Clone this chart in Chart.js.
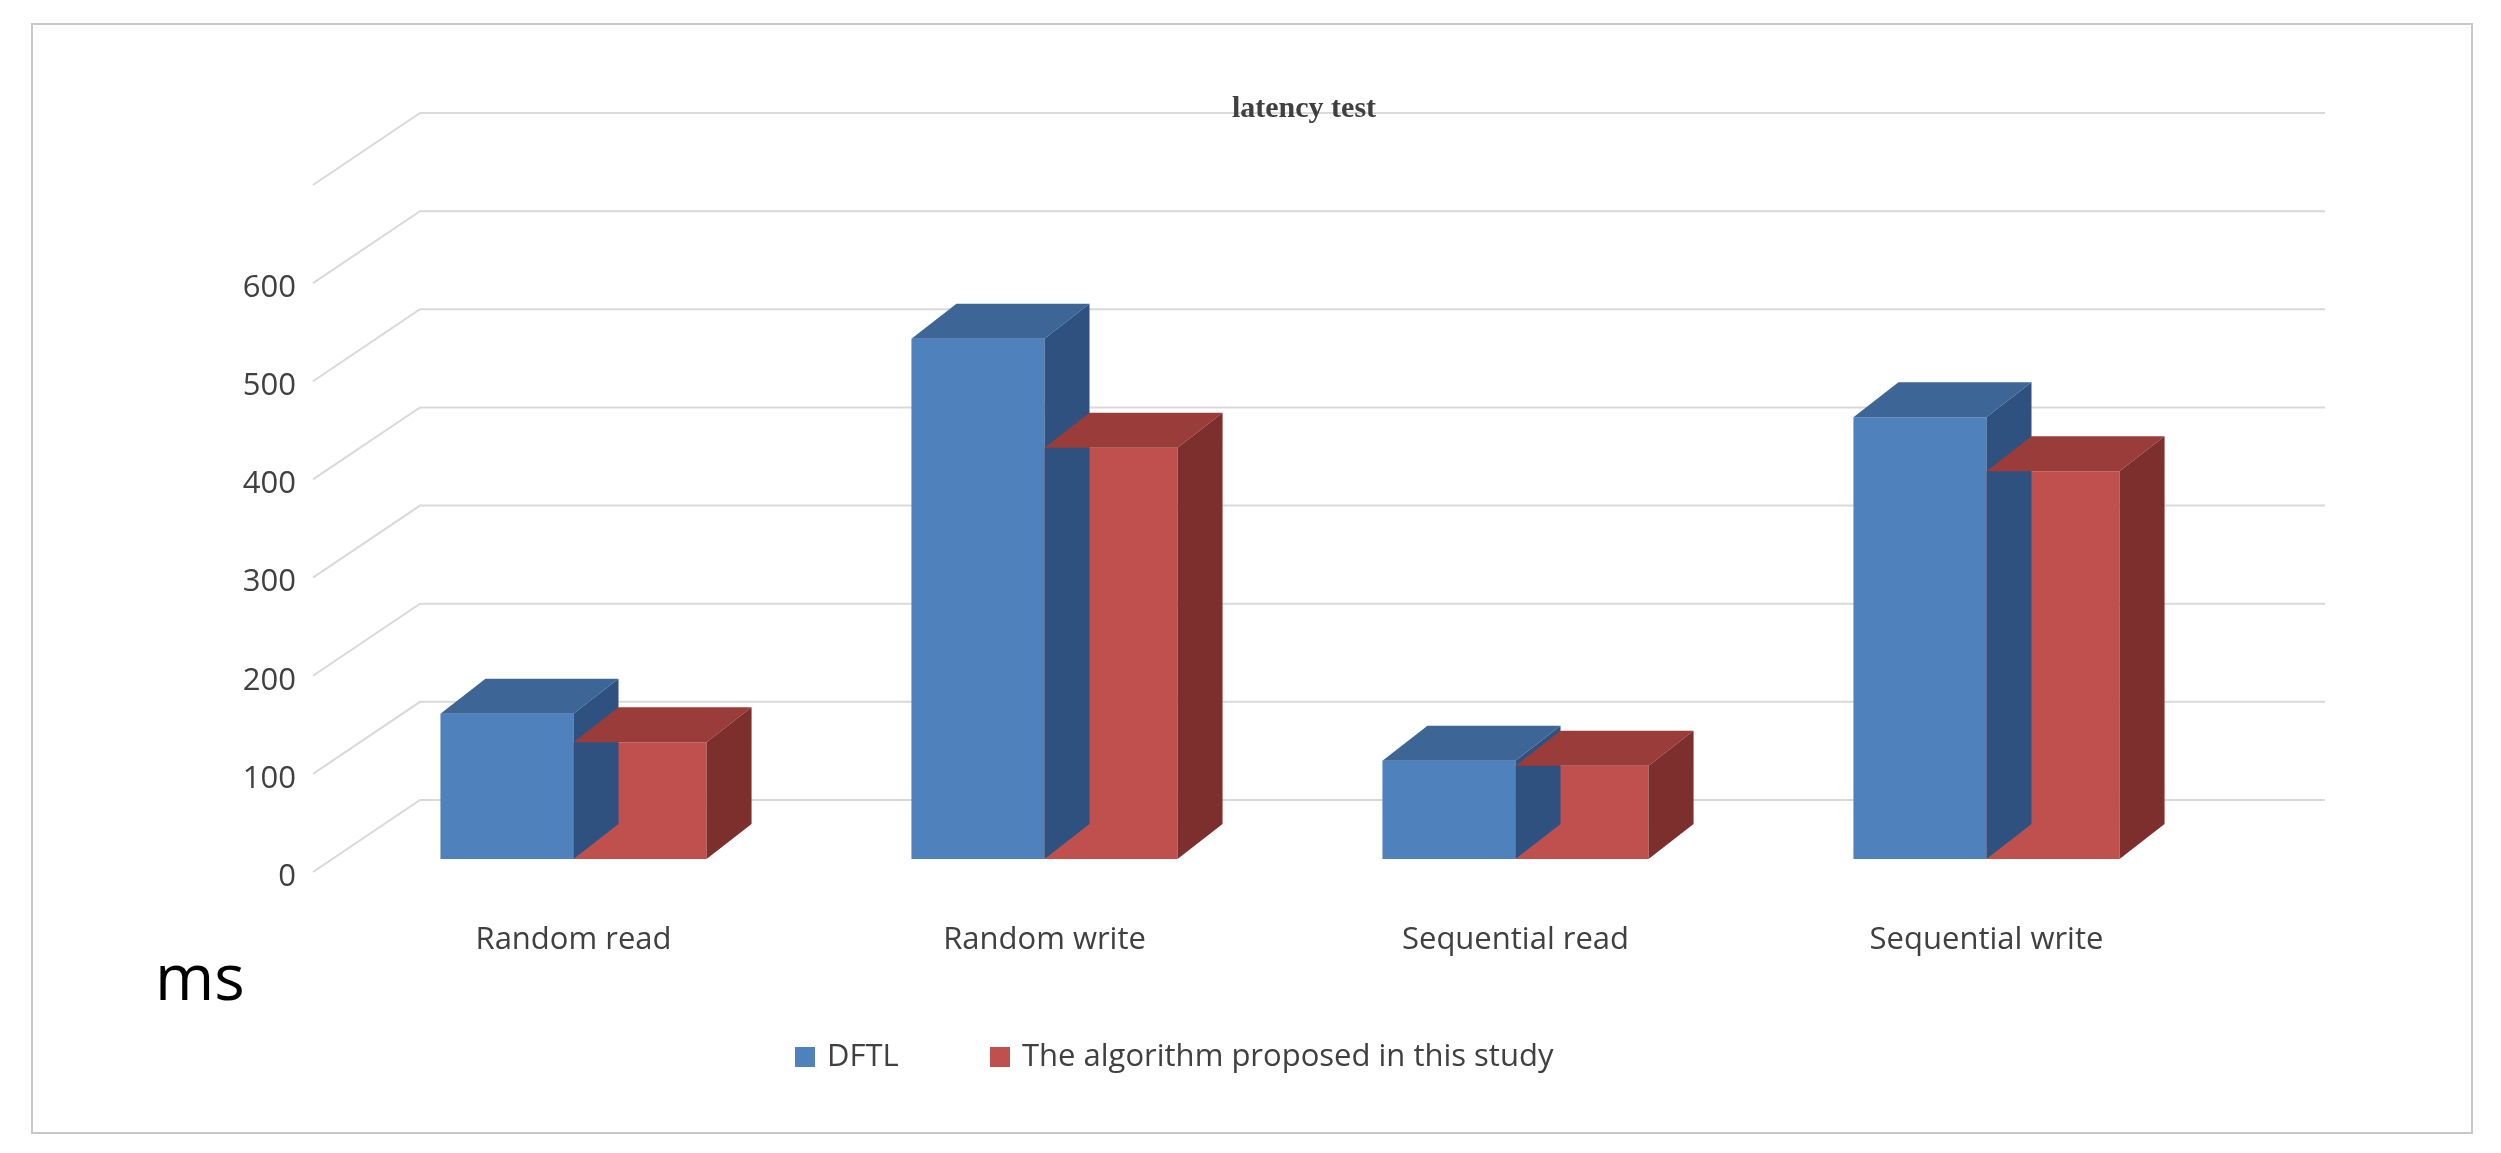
<!DOCTYPE html>
<html>
<head>
<meta charset="utf-8">
<script src="https://cdn.jsdelivr.net/npm/chart.js@4"></script>
<style>
  body { margin: 0; background: #fff; }
  #wrap { width: 2501px; height: 1153px; position: relative; }
</style>
</head>
<body>
<div id="wrap"><canvas id="c" width="2501" height="1153"></canvas></div>
<script>
// data
var categories = ['Random read', 'Random write', 'Sequential read', 'Sequential write'];
var dftl = [148, 530, 100, 450];
var proposed = [119, 419, 95, 395];
var yTicks = [0, 100, 200, 300, 400, 500, 600];

var blue = '#4f81bd', blueTop = '#3d6697', blueSide = '#2f5180';
var red = '#c0504d', redTop = '#9a3c3a', redSide = '#7d2f2e';

// perspective grid, 3d bar faces, title, legend and frame
var deco = {
  id: 'deco',
  beforeDatasetsDraw: function(chart) {
    var ctx = chart.ctx, y = chart.scales.y, a = chart.chartArea;
    var back = -59, dx = 107, dy = 72;
    ctx.save();
    ctx.strokeStyle = '#d9d9d9';
    ctx.lineWidth = 2;
    ctx.font = '31px "Open Sans", sans-serif';
    ctx.fillStyle = '#404040';
    ctx.textAlign = 'right';
    ctx.textBaseline = 'middle';
    for (var v = 0; v <= 700; v += 100) {
      var yb = y.getPixelForValue(v) + back;
      var xl = a.left + 82;
      ctx.beginPath();
      ctx.moveTo(xl - dx, yb + dy);
      ctx.lineTo(xl, yb);
      ctx.lineTo(a.right + 82 + 21, yb);
      ctx.stroke();
      if (yTicks.indexOf(v) >= 0) ctx.fillText(String(v), 296, yb + dy + 5);
    }
    ctx.restore();
  },
  afterDatasetsDraw: function(chart) {
    var ctx = chart.ctx;
    var ddx = 45, ddy = 35;
    ctx.save();
    chart.data.datasets.forEach(function(ds, i) {
      var top = i === 0 ? blueTop : redTop, side = i === 0 ? blueSide : redSide;
      chart.getDatasetMeta(i).data.forEach(function(bar) {
        var l = bar.x - bar.width / 2, r = bar.x + bar.width / 2, t = bar.y, b = bar.base;
        ctx.fillStyle = top;
        ctx.beginPath();
        ctx.moveTo(l, t); ctx.lineTo(l + ddx, t - ddy); ctx.lineTo(r + ddx, t - ddy); ctx.lineTo(r, t);
        ctx.closePath(); ctx.fill();
        ctx.fillStyle = side;
        ctx.beginPath();
        ctx.moveTo(r, t); ctx.lineTo(r + ddx, t - ddy); ctx.lineTo(r + ddx, b - ddy); ctx.lineTo(r, b);
        ctx.closePath(); ctx.fill();
      });
    });
    // title
    ctx.fillStyle = '#404040';
    ctx.textAlign = 'center';
    ctx.textBaseline = 'middle';
    ctx.font = 'bold 30px "Liberation Serif", serif';
    ctx.fillText('latency test', 1304, 109);
    // unit
    ctx.fillStyle = '#000';
    ctx.font = '64px "Open Sans", sans-serif';
    ctx.textAlign = 'left';
    ctx.fillText('ms', 155, 982);
    // legend
    ctx.font = '31px "Open Sans", sans-serif';
    ctx.fillStyle = '#404040';
    var items = [[chart.data.datasets[0].label, blue, 795], [chart.data.datasets[1].label, red, 990]];
    items.forEach(function(it) {
      ctx.fillStyle = it[1];
      ctx.fillRect(it[2], 1047, 20, 20);
      ctx.fillStyle = '#404040';
      ctx.fillText(it[0], it[2] + 32, 1057);
    });
    // frame
    ctx.strokeStyle = '#c8c8c8';
    ctx.lineWidth = 2;
    ctx.strokeRect(32, 24, 2440, 1109);
    ctx.restore();
  }
};

new Chart(document.getElementById('c'), {
  type: 'bar',
  data: {
    labels: categories,
    datasets: [
      { label: 'DFTL', data: dftl, backgroundColor: blue },
      { label: 'The algorithm proposed in this study', data: proposed, backgroundColor: red }
    ]
  },
  options: {
    responsive: false,
    animation: false,
    devicePixelRatio: 1,
    categoryPercentage: 0.565,
    barPercentage: 1,
    layout: { padding: { left: 338, right: 279, top: 172, bottom: 0 } },
    plugins: { legend: { display: false }, title: { display: false }, tooltip: { enabled: false } },
    scales: {
      x: {
        grid: { display: false },
        border: { display: false },
        ticks: { color: '#404040', font: { size: 31, family: '"Open Sans", sans-serif' }, padding: 55, maxRotation: 0 },
        afterFit: function(s) { s.height = 294; }
      },
      y: { display: false, min: 0, max: 700 }
    }
  },
  plugins: [deco]
});
</script>
</body>
</html>
